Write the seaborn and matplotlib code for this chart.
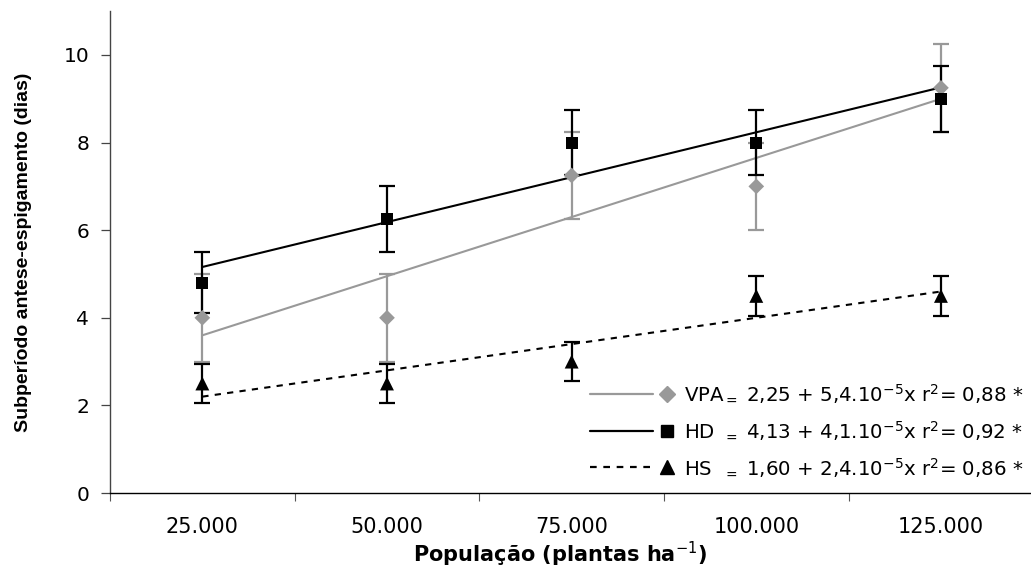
import matplotlib
matplotlib.use("Agg")
import matplotlib.pyplot as plt
import seaborn as sns
from matplotlib.legend_handler import HandlerBase
from matplotlib.lines import Line2D
from matplotlib.ticker import FixedLocator

# Data
POPULATIONS = ["25.000", "50.000", "75.000", "100.000", "125.000"]
VPA_MEAN = [4.0, 4.0, 7.25, 7.0, 9.25]
VPA_ERR = [1.0, 1.0, 1.0, 1.0, 1.0]
HD_MEAN = [4.8, 6.25, 8.0, 8.0, 9.0]
HD_ERR = [0.7, 0.75, 0.75, 0.75, 0.75]
HS_MEAN = [2.5, 2.5, 3.0, 4.5, 4.5]
HS_ERR = [0.45, 0.45, 0.45, 0.45, 0.45]
# fitted lines, value at the first and the last population
FIT_X = ["25.000", "125.000"]
VPA_FIT = [3.6, 9.0]
HD_FIT = [5.16, 9.26]
HS_FIT = [2.2, 4.6]
LABELS = [
    r"VPA$_{=}\hspace{0.3}$2,25 + 5,4.10$^{-5}$x r$^2$= 0,88 *",
    r"HD$\hspace{0.46}$$_{=}\hspace{0.3}$4,13 + 4,1.10$^{-5}$x r$^2$= 0,92 *",
    r"HS$\hspace{0.60}$$_{=}\hspace{0.3}$1,60 + 2,4.10$^{-5}$x r$^2$= 0,86 *",
]

GRAY = "#999999"
BLACK = "#000000"


class LegendKey:
    """Line segment followed by a separate marker, as in the original legend."""

    def __init__(self, color, marker, ls, ms):
        self.color = color
        self.marker = marker
        self.ls = ls
        self.ms = ms


class LineThenMarker(HandlerBase):
    def create_artists(self, legend, key, xdescent, ydescent, width, height, fontsize, trans):
        y = height / 2 - ydescent
        x0 = -xdescent
        line = Line2D([x0, x0 + 0.74 * width], [y, y], color=key.color, ls=key.ls, lw=1.6)
        dot = Line2D([x0 + 0.91 * width], [y], marker=key.marker, color=key.color, ms=key.ms, ls="none")
        line.set_transform(trans)
        dot.set_transform(trans)
        return [line, dot]


def draw_series(ax, means, errs, fit, color, marker, size, ls):
    ax.errorbar(POPULATIONS, means, yerr=errs, fmt="none", ecolor=color, elinewidth=1.6,
                capsize=5.5, capthick=1.6, zorder=3)
    sns.lineplot(x=FIT_X, y=fit, ax=ax, color=color, lw=1.5, linestyle=ls, zorder=2, sort=False)
    sns.scatterplot(x=POPULATIONS, y=means, ax=ax, color=color, marker=marker, s=size,
                    edgecolor="none", zorder=4)


def main():
    sns.set_style("ticks")
    plt.rcParams["font.family"] = ["DejaVu Sans"]
    plt.rcParams["mathtext.fontset"] = "dejavusans"
    for key in ["text.color", "axes.labelcolor", "xtick.color", "ytick.color"]:
        plt.rcParams[key] = "black"

    fig = plt.figure(figsize=(10.31, 5.73), dpi=100)
    ax = fig.add_axes([0.1067, 0.1396, 0.8955, 0.8409])

    draw_series(ax, VPA_MEAN, VPA_ERR, VPA_FIT, GRAY, "D", 64, "-")
    draw_series(ax, HD_MEAN, HD_ERR, HD_FIT, BLACK, "s", 75, "-")
    draw_series(ax, HS_MEAN, HS_ERR, HS_FIT, BLACK, "^", 100, (0, (3, 3)))

    ax.set_xlim(-0.5, len(POPULATIONS) - 0.5)
    ax.set_ylim(0, 11)
    ax.set_yticks([0, 2, 4, 6, 8, 10])
    ax.xaxis.set_minor_locator(FixedLocator([i - 0.5 for i in range(len(POPULATIONS) + 1)]))
    ax.tick_params(axis="x", which="major", length=0, pad=17, labelsize=15)
    ax.tick_params(axis="x", which="minor", length=6, width=0.8, color="#555555", direction="out")
    ax.tick_params(axis="y", length=6.5, width=0.9, pad=8.5, labelsize=14.5, color="#444444")
    sns.despine(ax=ax)
    ax.spines["left"].set_color("#444444")
    ax.spines["left"].set_linewidth(1.0)
    ax.spines["bottom"].set_color("#000000")
    ax.spines["bottom"].set_linewidth(1.0)

    ax.set_ylabel("Subperíodo antese-espigamento (dias)", fontsize=14, fontweight="bold",
                  family=["Liberation Sans", "DejaVu Sans"])
    ax.yaxis.set_label_coords(-0.0845, 0.5)
    ax.set_xlabel(r"População (plantas ha$^{-1}$)", fontsize=15, fontweight="bold")
    ax.xaxis.set_label_coords(0.4875, -0.097)

    keys = [
        LegendKey(GRAY, "D", "-", 8),
        LegendKey(BLACK, "s", "-", 8),
        LegendKey(BLACK, "^", (0, (3, 3)), 10),
    ]
    ax.legend(keys, LABELS, handler_map={LegendKey: LineThenMarker()}, loc="lower left",
              bbox_to_anchor=(0.52, 0.03), frameon=False, fontsize=14.2, handlelength=4.3,
              handleheight=0.7, handletextpad=0.45, labelspacing=0.72, borderpad=0, borderaxespad=0)

    fig.savefig("out.png", dpi=100)


if __name__ == "__main__":
    main()
